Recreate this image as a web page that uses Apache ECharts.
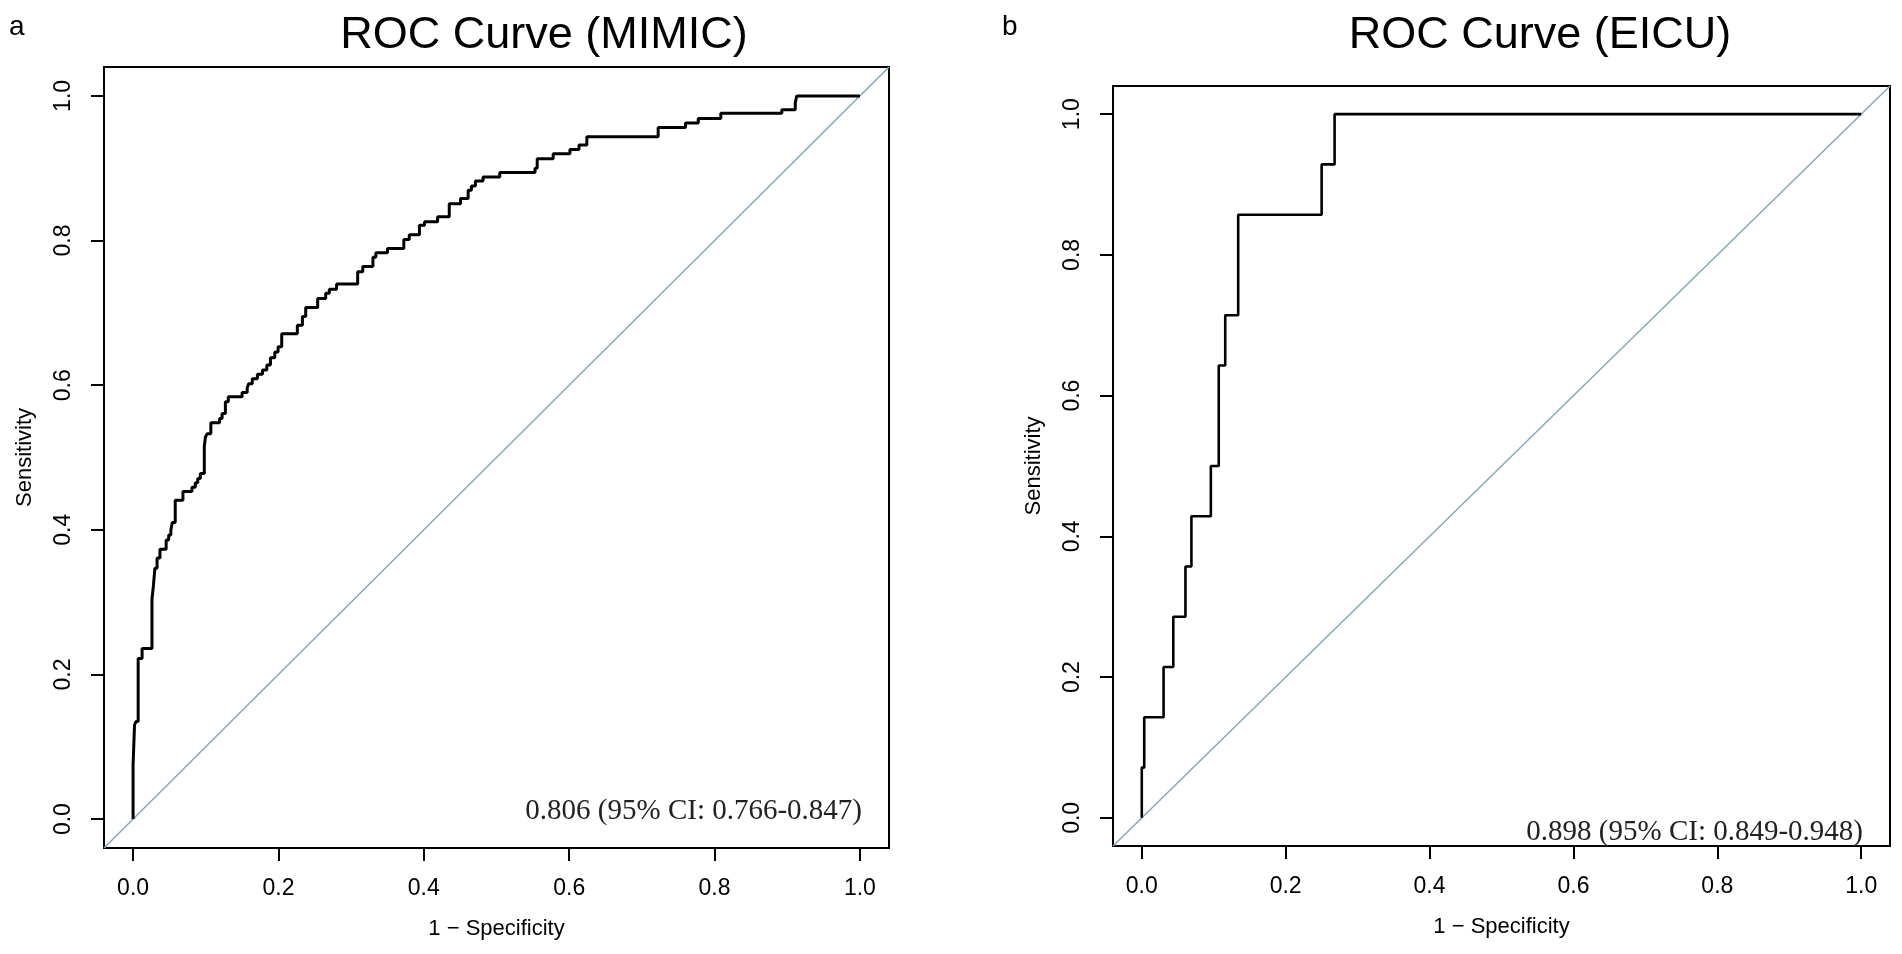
<!doctype html>
<html lang="en">
<head>
<meta charset="utf-8">
<title>ROC curves</title>
<script src="https://cdn.jsdelivr.net/npm/echarts@6/dist/echarts.min.js"></script>
<style>
  html, body { margin: 0; padding: 0; background: #fff; }
</style>
</head>
<body>
<div id="roc" style="width: 1902px; height: 954px;"></div>

<script>

// MIMIC cohort: 1 - specificity / sensitivity at each step of the curve
var mimicFpr = [0, 0, 0.002, 0.004, 0.007, 0.0124, 0.026, 0.028, 0.030, 0.033, 0.037, 0.0455, 0.049,
  0.052, 0.054, 0.058, 0.0686, 0.081, 0.0856, 0.089, 0.0925, 0.098, 0.0995, 0.102, 0.107, 0.119,
  0.1225, 0.127, 0.131, 0.150, 0.157, 0.159, 0.164, 0.171, 0.178, 0.184, 0.189, 0.195, 0.1995,
  0.2045, 0.226, 0.233, 0.2375, 0.254, 0.265, 0.270, 0.280, 0.309, 0.316, 0.330, 0.334, 0.350,
  0.3725, 0.380, 0.394, 0.401, 0.419, 0.435, 0.4505, 0.461, 0.4655, 0.471, 0.4815, 0.5045, 0.553,
  0.556, 0.578, 0.601, 0.6135, 0.6243, 0.7224, 0.760, 0.7776, 0.8086, 0.8925, 0.911, 0.913, 1.0];
var mimicTpr = [0, 0.075, 0.130, 0.135, 0.222, 0.236, 0.304, 0.323, 0.347, 0.361, 0.373, 0.386, 0.393,
  0.400, 0.410, 0.441, 0.453, 0.459, 0.465, 0.471, 0.478, 0.515, 0.528, 0.533, 0.548, 0.554,
  0.561, 0.577, 0.584, 0.590, 0.596, 0.602, 0.609, 0.615, 0.621, 0.628, 0.638, 0.646, 0.653,
  0.671, 0.683, 0.695, 0.7075, 0.720, 0.727, 0.7325, 0.740, 0.757, 0.764, 0.777, 0.783, 0.789,
  0.8015, 0.808, 0.821, 0.826, 0.833, 0.851, 0.858, 0.8695, 0.8755, 0.8825, 0.888, 0.894, 0.900,
  0.913, 0.920, 0.926, 0.932, 0.9435, 0.9565, 0.9627, 0.9689, 0.976, 0.981, 0.990, 1.0, 1.0];

// eICU cohort
var eicuFpr = [0, 0, 0.0034, 0.0303, 0.0438, 0.0607, 0.069, 0.096, 0.107, 0.116, 0.134, 0.250, 0.268, 1.0];
var eicuTpr = [0, 0.0714, 0.1429, 0.2143, 0.2857, 0.3571, 0.4286, 0.5, 0.6429, 0.7143, 0.8571, 0.9286, 1.0, 1.0];

var chanceLine = [[-0.04, -0.04], [1.04, 1.04]];
var tickValues = [0, 0.2, 0.4, 0.6, 0.8, 1.0];

var panelLetters = ['a', 'b'];
var panelTitles = ['ROC Curve (MIMIC)', 'ROC Curve (EICU)'];
var aucLabels = ['0.806 (95% CI: 0.766-0.847)', '0.898 (95% CI: 0.849-0.948)'];
var xName = '1 \u2212 Specificity';
var yName = 'Sensitivity';

var sans = 'Liberation Sans, Arial, sans-serif';
var serif = 'Liberation Serif, Times New Roman, serif';

function pairs(xs, ys) {
    return xs.map(function (x, i) { return [x, ys[i]]; });
}

// pixel boxes of the two plot regions
var boxes = [
    {left: 104, top: 67, width: 785, height: 781},
    {left: 1113, top: 86, width: 777, height: 760}
];
var titleX = [539, 1535];
var letterX = [4, 997];
var aucPos = [[857, 792], [1858, 813]];

var myChart = echarts.init(document.getElementById('roc'));

function makeAxis(isY, idx) {
    return {
        type: 'value',
        gridIndex: idx,
        min: -0.04,
        max: 1.04,
        name: isY ? yName : xName,
        nameLocation: 'middle',
        nameRotate: isY ? 90 : 0,
        nameGap: isY ? 68 : 70,
        nameTextStyle: {fontFamily: sans, fontSize: 22, color: '#000'},
        axisLine: {show: false, onZero: false},
        splitLine: {show: false},
        axisTick: {
            show: true,
            length: 13,
            customValues: tickValues,
            lineStyle: {color: '#000', width: 2}
        },
        axisLabel: {
            customValues: tickValues,
            rotate: isY ? 90 : 0,
            margin: 29,
            fontFamily: sans,
            fontSize: 23,
            color: '#000',
            formatter: function (v) { return v.toFixed(1); }
        }
    };
}

var titles = [];
[0, 1].forEach(function (i) {
    titles.push({
        text: panelTitles[i],
        left: titleX[i],
        top: 8,
        textAlign: 'center',
        textStyle: {fontFamily: sans, fontSize: 45, fontWeight: 'normal', color: '#000'}
    });
    titles.push({
        text: panelLetters[i],
        left: letterX[i],
        top: 8,
        textStyle: {fontFamily: sans, fontSize: 28, fontWeight: 'normal', color: '#000'}
    });
    titles.push({
        text: aucLabels[i],
        left: aucPos[i][0],
        top: aucPos[i][1],
        textAlign: 'right',
        textStyle: {fontFamily: serif, fontSize: 29, fontWeight: 'normal', color: '#222'}
    });
});

var option = {
    animation: false,
    backgroundColor: '#fff',
    title: titles,
    grid: boxes.map(function (b) {
        return {
            left: b.left, top: b.top, width: b.width, height: b.height,
            show: true, borderColor: '#000', borderWidth: 2, backgroundColor: 'transparent'
        };
    }),
    xAxis: [makeAxis(false, 0), makeAxis(false, 1)],
    yAxis: [makeAxis(true, 0), makeAxis(true, 1)],
    series: [
        {
            type: 'line', xAxisIndex: 0, yAxisIndex: 0,
            data: chanceLine, symbol: 'none',
            lineStyle: {color: '#86a8b6', width: 1.5}
        },
        {
            type: 'line', xAxisIndex: 0, yAxisIndex: 0,
            data: pairs(mimicFpr, mimicTpr), step: 'end', symbol: 'none',
            lineStyle: {color: '#000', width: 3}
        },
        {
            type: 'line', xAxisIndex: 1, yAxisIndex: 1,
            data: chanceLine, symbol: 'none',
            lineStyle: {color: '#86a8b6', width: 1.5}
        },
        {
            type: 'line', xAxisIndex: 1, yAxisIndex: 1,
            data: pairs(eicuFpr, eicuTpr), step: 'end', symbol: 'none',
            lineStyle: {color: '#000', width: 2.6}
        }
    ]
};

myChart.setOption(option);

</script>
</body>
</html>
